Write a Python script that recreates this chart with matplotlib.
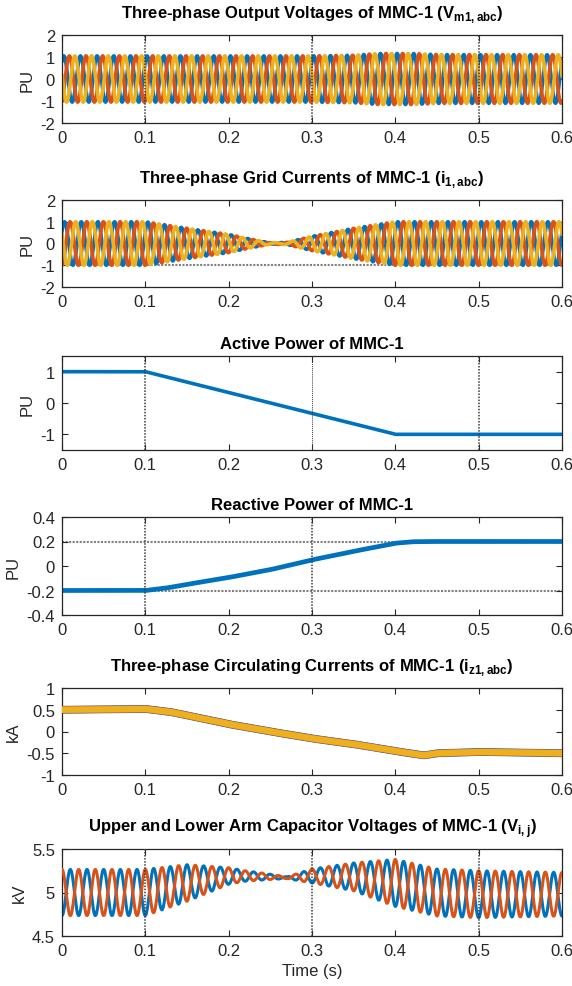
import numpy as np
import matplotlib.pyplot as plt

plt.rcParams['font.family'] = ['Liberation Sans', 'DejaVu Sans']
plt.rcParams['mathtext.fontset'] = 'custom'
plt.rcParams['mathtext.rm'] = 'Liberation Sans'
plt.rcParams['mathtext.bf'] = 'Liberation Sans:bold'
plt.rcParams['axes.unicode_minus'] = False

BLUE = '#0072BD'
ORANGE = '#D95319'
YELLOW = '#EDB120'
GRIDC = '#3a3a3a'

f_grid = 50.0
t = np.linspace(0, 0.6, 6001)
w = 2 * np.pi * f_grid

# output voltage amplitude (PU)
vm_t = [0, 0.1, 0.3, 0.35, 0.38, 0.42, 0.45, 0.6]
vm_amp = [1.05, 1.05, 1.05, 1.08, 1.16, 1.16, 1.11, 1.10]

# grid current amplitude (PU)
ig_t = [0, 0.1, 0.15, 0.2, 0.22, 0.24, 0.25, 0.27, 0.3, 0.35, 0.4, 0.6]
ig_amp = [1.0, 1.0, 0.7, 0.42, 0.25, 0.1, 0.03, 0.05, 0.33, 0.7, 1.0, 1.0]

# active power (PU)
p_t = [0, 0.1, 0.4, 0.6]
p_val = [1.0, 1.0, -1.0, -1.0]

# reactive power (PU)
q_t = [0, 0.1, 0.125, 0.15, 0.2, 0.25, 0.3, 0.35, 0.4, 0.42, 0.44, 0.6]
q_val = [-0.2, -0.2, -0.18, -0.15, -0.094, -0.03, 0.05, 0.12, 0.186, 0.198, 0.2, 0.2]

# circulating current (kA)
iz_t = [0, 0.1, 0.13, 0.2, 0.25, 0.3, 0.35, 0.4, 0.434, 0.45, 0.5, 0.6]
iz_val = [0.5, 0.52, 0.45, 0.17, 0.0, -0.16, -0.29, -0.45, -0.55, -0.5, -0.47, -0.5]

# arm capacitor voltage mean and ripple (kV)
vc_t = [0, 0.1, 0.15, 0.2, 0.22, 0.25, 0.27, 0.3, 0.35, 0.4, 0.45, 0.5, 0.6]
vc_mean = [5.0, 5.0, 5.11, 5.19, 5.19, 5.18, 5.17, 5.19, 5.18, 5.11, 5.0, 4.98, 4.98]
vc_amp = [0.265, 0.265, 0.21, 0.095, 0.06, 0.03, 0.01, 0.08, 0.16, 0.27, 0.27, 0.27, 0.25]

x_ticks = [0, 0.1, 0.2, 0.3, 0.4, 0.5, 0.6]
x_labels = ['0', '0.1', '0.2', '0.3', '0.4', '0.5', '0.6']

W, H = 572, 987
fig = plt.figure(figsize=(W / 100, H / 100), dpi=100)


def make_axes(top, bottom):
    ax = fig.add_axes([62 / W, (H - bottom) / H, 500 / W, (bottom - top) / H])
    ax.set_xlim(0, 0.6)
    ax.set_xticks(x_ticks)
    ax.set_xticklabels(x_labels)
    ax.tick_params(direction='in', top=True, right=True, length=4, width=0.8,
                   labelsize=12, colors='#262626', pad=5)
    for s in ax.spines.values():
        s.set_linewidth(0.9)
        s.set_color('#262626')
    return ax


def yticks(ax, vals):
    ax.set_yticks(vals)
    ax.set_yticklabels(['%g' % v for v in vals])


def vlines(ax, xs, lw=1.1):
    for x in xs:
        ax.axvline(x, color=GRIDC, ls=(0, (1, 1)), lw=lw, zorder=5)


def hlines(ax, ys):
    for y in ys:
        ax.axhline(y, color='#808080', ls=(0, (1, 0.7)), lw=1.5, zorder=1)


title_kw = dict(fontsize=12, fontweight='bold', pad=6, color='black')
sub_title_kw = dict(title_kw, pad=13)
label_kw = dict(fontsize=12, color='#262626')
phases = [0, -2 * np.pi / 3, 2 * np.pi / 3]
colors3 = [BLUE, ORANGE, YELLOW]

# 1: output voltages
ax = make_axes(36, 124)
amp = np.interp(t, vm_t, vm_amp)
for ph, c in zip(phases, colors3):
    ax.plot(t, amp * np.sin(w * t + ph + 0.9), color=c, lw=2.6, zorder=2)
ax.set_ylim(-2, 2)
yticks(ax, [-2, -1, 0, 1, 2])
vlines(ax, [0.1, 0.3, 0.5])
ax.set_ylabel('PU', **label_kw)
ax.set_title(r'Three-phase Output Voltages of MMC-1 (V$_{\mathbf{m1,abc}}$)', **sub_title_kw)

# 2: grid currents
ax = make_axes(201, 288)
amp = np.interp(t, ig_t, ig_amp)
for ph, c in zip(phases, colors3):
    ax.plot(t, amp * np.sin(w * t + ph + 0.6), color=c, lw=2.6, zorder=2)
ax.set_ylim(-2, 2)
yticks(ax, [-2, -1, 0, 1, 2])
hlines(ax, [-1])
ax.set_ylabel('PU', **label_kw)
ax.set_title(r'Three-phase Grid Currents of MMC-1 (i$_{\mathbf{1,abc}}$)', **sub_title_kw)

# 3: active power
ax = make_axes(357, 451)
ax.plot(t, np.interp(t, p_t, p_val), color=BLUE, lw=2.6, zorder=2)
ax.set_ylim(-1.5, 1.5)
yticks(ax, [-1, 0, 1])
vlines(ax, [0.1, 0.5])
vlines(ax, [0.3], lw=0.7)
ax.set_ylabel('PU', **label_kw)
ax.set_title('Active Power of MMC-1', **title_kw)

# 4: reactive power
ax = make_axes(518, 616)
ax.plot(t, np.interp(t, q_t, q_val), color=BLUE, lw=3.4, zorder=2)
ax.set_ylim(-0.4, 0.4)
yticks(ax, [-0.4, -0.2, 0, 0.2, 0.4])
vlines(ax, [0.1, 0.3])
hlines(ax, [-0.2, 0.2])
ax.set_ylabel('PU', **label_kw)
ax.set_title('Reactive Power of MMC-1', **title_kw)

# 5: circulating currents
ax = make_axes(689, 776)
iz = np.interp(t, iz_t, iz_val)
ax.plot(t, iz, color=BLUE, lw=5.6, zorder=2)
ax.plot(t, iz, color=ORANGE, lw=5.2, zorder=3)
ax.plot(t, iz, color=YELLOW, lw=4.6, zorder=4)
ax.set_ylim(-1, 1)
yticks(ax, [-1, -0.5, 0, 0.5, 1])
ax.set_ylabel('kA', **label_kw)
ax.set_title(r'Three-phase Circulating Currents of MMC-1 (i$_{\mathbf{z1,abc}}$)', **sub_title_kw)

# 6: arm capacitor voltages
ax = make_axes(850, 937)
m = np.interp(t, vc_t, vc_mean)
a = np.interp(t, vc_t, vc_amp)
ax.plot(t, m - a * np.cos(w * t), color=BLUE, lw=2.2, zorder=2)
ax.plot(t, m + a * np.cos(w * t), color=ORANGE, lw=2.2, zorder=3)
ax.set_ylim(4.5, 5.5)
yticks(ax, [4.5, 5, 5.5])
vlines(ax, [0.1, 0.3, 0.5])
ax.set_ylabel('kV', **label_kw)
ax.set_xlabel('Time (s)', **label_kw)
ax.set_title(r'Upper and Lower Arm Capacitor Voltages of MMC-1 (V$_{\mathbf{i,j}}$)', **sub_title_kw)

fig.savefig('out.png', dpi=100)
